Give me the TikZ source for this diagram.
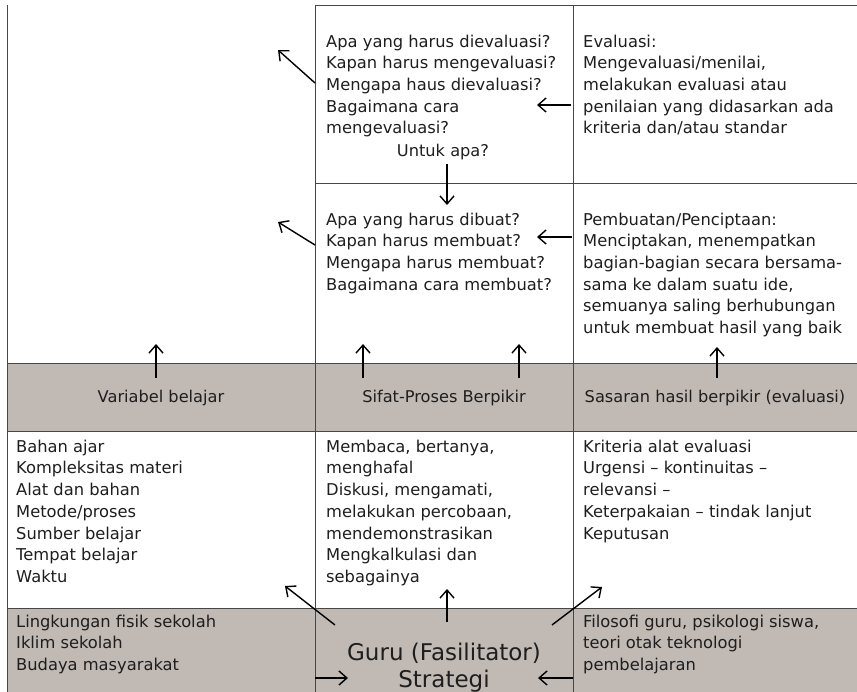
\documentclass[tikz,border=0pt]{standalone}
\usepackage{fontspec}
\setmainfont{DejaVu Sans}
\usetikzlibrary{arrows.meta}
\definecolor{band}{RGB}{192,185,180}
\definecolor{ink}{RGB}{30,30,30}
\definecolor{gridc}{RGB}{70,70,70}
\begin{document}
\begin{tikzpicture}[x=1pt,y=-1pt,
  txt/.style={anchor=north west,inner sep=0pt,align=left,font=\fontsize{16.3}{21.7}\selectfont,text=ink},
  lbl/.style={anchor=base,inner sep=0pt,font=\fontsize{16.2}{21.7}\selectfont,text=ink},
  big/.style={anchor=base,inner sep=0pt,font=\fontsize{23}{27}\selectfont,text=ink},
  gridline/.style={draw=gridc,line width=0.9pt},
  arr/.style={-{Straight Barb[length=8pt,width=14pt]},line width=1.4pt,draw=black},
]
\useasboundingbox (0,0) rectangle (857,692);
% bands
\fill[band] (7,363) rectangle (857,431);
\fill[band] (7,608) rectangle (857,692);
% grid
\draw[gridline] (7,5) -- (7,692);
\draw[gridline] (315,5) -- (315,692);
\draw[gridline] (573,5) -- (573,692);
\draw[gridline] (315,5) -- (857,5);
\draw[gridline] (315,183) -- (857,183);
\draw[gridline] (7,363) -- (857,363);
\draw[gridline] (7,431) -- (857,431);
\draw[gridline] (7,608) -- (857,608);
% row 1
\node[txt] (q1) at (326,34.5) {\rule{0pt}{12.5pt}Apa yang harus dievaluasi?\\Kapan harus mengevaluasi?\\Mengapa haus dievaluasi?\\Bagaimana cara\\mengevaluasi?};
\node[lbl] (untuk) at (443,157) {Untuk apa?};
\node[txt] (ev) at (583,34.5) {\rule{0pt}{12.5pt}Evaluasi:\\Mengevaluasi/menilai,\\melakukan evaluasi atau\\penilaian yang didasarkan ada\\kriteria dan/atau standar};
% row 2
\node[txt] (q2) at (326,212.5) {\rule{0pt}{12.5pt}Apa yang harus dibuat?\\Kapan harus membuat?\\Mengapa harus membuat?\\Bagaimana cara membuat?};
\node[txt] (pc) at (583,212.5) {\rule{0pt}{12.5pt}Pembuatan/Penciptaan:\\Menciptakan, menempatkan\\bagian-bagian secara bersama-\\sama ke dalam suatu ide,\\semuanya saling berhubungan\\untuk membuat hasil yang baik};
% band labels
\node[lbl] (vb) at (161,403) {Variabel belajar};
\node[lbl] (sp) at (444,403) {Sifat-Proses Berpikir};
\node[lbl] (ss) at (715,403) {Sasaran hasil berpikir (evaluasi)};
% row 4
\node[txt] (r4a) at (16,439.5) {\rule{0pt}{12.5pt}Bahan ajar\\Kompleksitas materi\\Alat dan bahan\\Metode/proses\\Sumber belajar\\Tempat belajar\\Waktu};
\node[txt] (r4b) at (326,439.5) {\rule{0pt}{12.5pt}Membaca, bertanya,\\menghafal\\Diskusi, mengamati,\\melakukan percobaan,\\mendemonstrasikan\\Mengkalkulasi dan\\sebagainya};
\node[txt] (r4c) at (583,439.5) {\rule{0pt}{12.5pt}Kriteria alat evaluasi\\Urgensi – kontinuitas –\\relevansi –\\Keterpakaian – tindak lanjut\\Keputusan};
% row 5
\node[txt] (r5a) at (16,614.5) {\rule{0pt}{12.5pt}Lingkungan fisik sekolah\\Iklim sekolah\\Budaya masyarakat};
\node[txt] (r5c) at (583,614.5) {\rule{0pt}{12.5pt}Filosofi guru, psikologi siswa,\\teori otak teknologi\\pembelajaran};
\node[big] (guru) at (444,660) {Guru (Fasilitator)};
\node[big] (strat) at (444,687) {Strategi};
% arrow ends
\coordinate (a1s) at (315,83);  \coordinate (a1e) at (278,50);
\coordinate (h1s) at (571,105); \coordinate (h1e) at (537,105);
\coordinate (d1s) at (447,164); \coordinate (d1e) at (447,205);
\coordinate (a2s) at (315,245); \coordinate (a2e) at (278,222);
\coordinate (h2s) at (572,237); \coordinate (h2e) at (537,237);
\coordinate (u1s) at (156,378); \coordinate (u1e) at (156,344);
\coordinate (u2s) at (363,378); \coordinate (u2e) at (363,344);
\coordinate (u3s) at (519,378); \coordinate (u3e) at (519,344);
\coordinate (u4s) at (717,378); \coordinate (u4e) at (717,347);
\coordinate (b1s) at (335,625); \coordinate (b1e) at (285,586);
\coordinate (b2s) at (447,622); \coordinate (b2e) at (447,589);
\coordinate (b3s) at (552,625); \coordinate (b3e) at (602,587);
\coordinate (b4s) at (315,678); \coordinate (b4e) at (348,678);
\coordinate (b5s) at (573,678); \coordinate (b5e) at (538,678);
\foreach \s/\e in {a1s/a1e,h1s/h1e,d1s/d1e,a2s/a2e,h2s/h2e,u1s/u1e,u2s/u2e,u3s/u3e,u4s/u4e,b1s/b1e,b2s/b2e,b3s/b3e,b4s/b4e,b5s/b5e}
  \draw[arr] (\s) -- (\e);
\end{tikzpicture}
\end{document}
